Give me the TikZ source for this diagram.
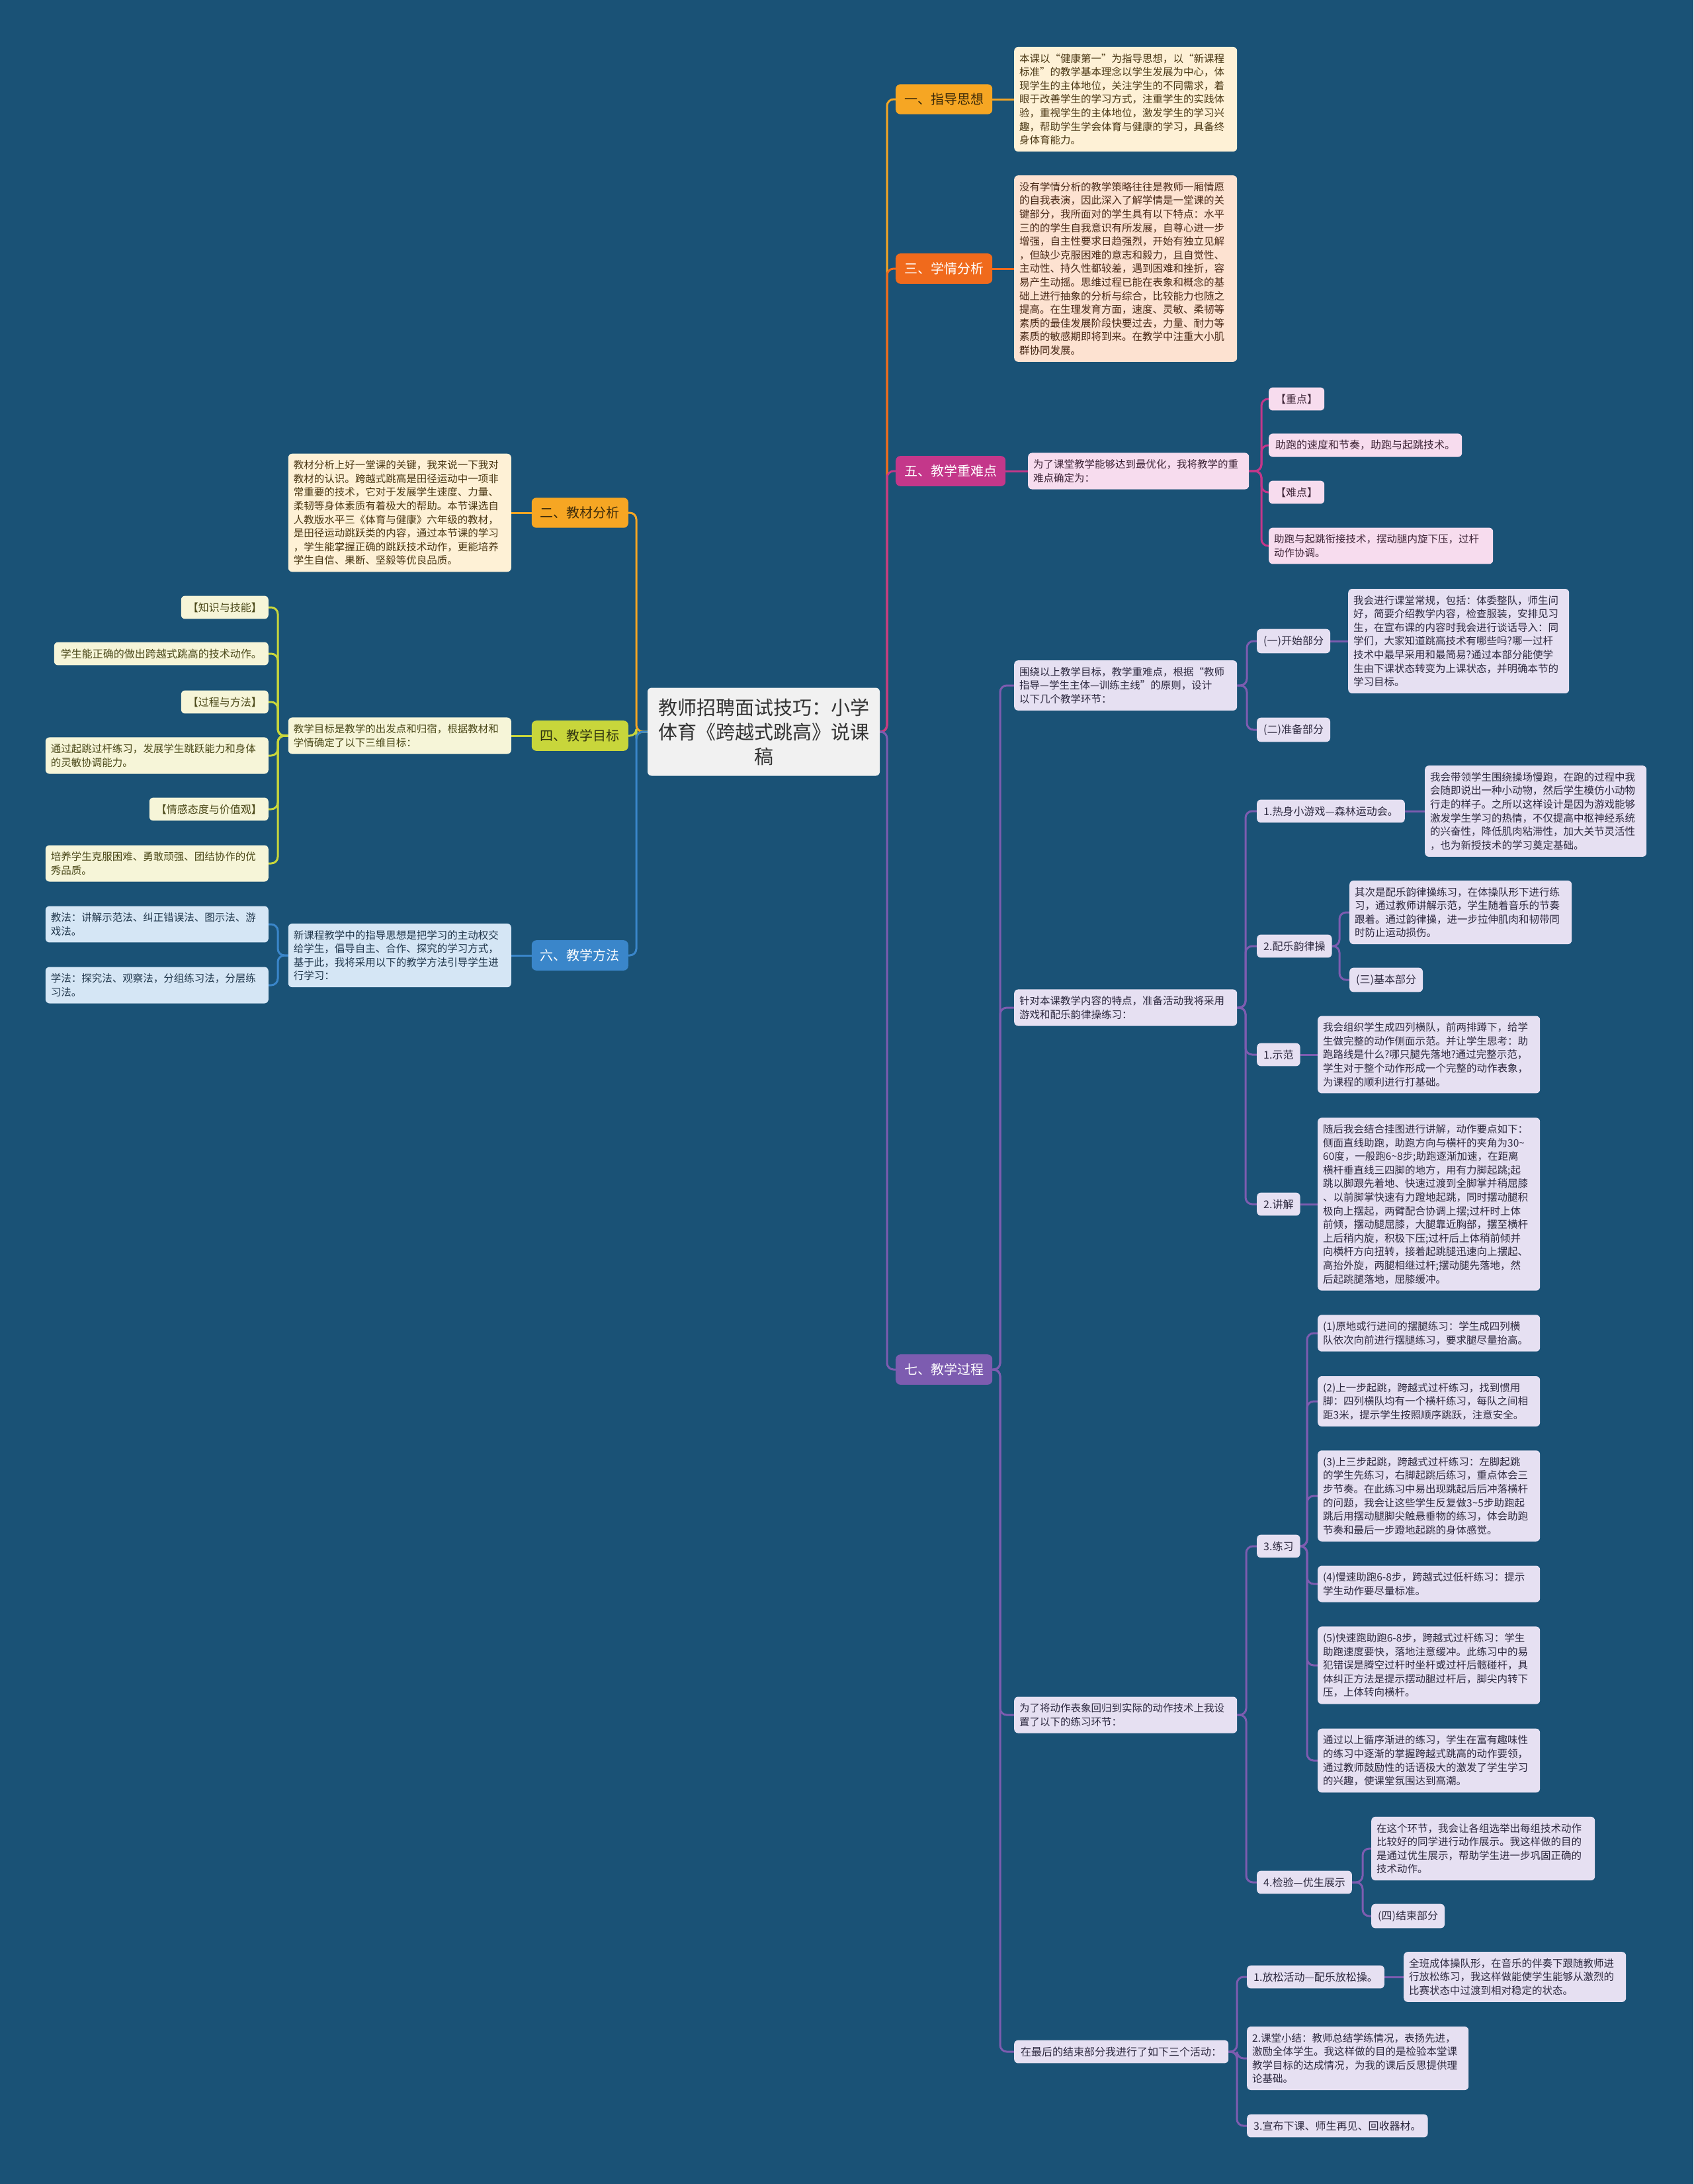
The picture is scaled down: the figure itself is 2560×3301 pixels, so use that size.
\documentclass[tikz,border=0pt]{standalone}
\usepackage{fontspec}
\setmainfont{Noto Sans CJK SC}
\usetikzlibrary{calc}
\definecolor{bg}{HTML}{1A5276}
\definecolor{cA}{HTML}{F6A623}
\definecolor{cB}{HTML}{F06A1C}
\definecolor{cC}{HTML}{C4378A}
\definecolor{cD}{HTML}{7D5CB0}
\definecolor{cE}{HTML}{C8D63B}
\definecolor{cF}{HTML}{3A86CA}
\definecolor{dA}{HTML}{3B2A0A}
\definecolor{dE}{HTML}{2E3310}
\definecolor{fA}{HTML}{FEF1D6}
\definecolor{fB}{HTML}{FDE2D1}
\definecolor{fC}{HTML}{F7DCEE}
\definecolor{fD}{HTML}{E6E0F2}
\definecolor{fE}{HTML}{F6F5D8}
\definecolor{fF}{HTML}{D5E6F5}
\definecolor{tA}{HTML}{4A3714}
\definecolor{tB}{HTML}{4A2A18}
\definecolor{tC}{HTML}{3D2436}
\definecolor{tD}{HTML}{2E2A40}
\definecolor{tE}{HTML}{4A4818}
\definecolor{tF}{HTML}{22384D}
\definecolor{rootfill}{HTML}{F1F1F1}
\pgfdeclarelayer{bgl}
\pgfdeclarelayer{lnk}
\pgfsetlayers{bgl,lnk,main}
\newcommand{\tl}{\textasciitilde{}}
\begin{document}
\begin{tikzpicture}[x=1pt,y=-1pt,
  rootnode/.style={fill=rootfill, text=black!80, rounded corners=6pt, inner xsep=16pt, inner ysep=16pt, align=center, font=\fontsize{29}{37}\selectfont},
  lone/.style={rounded corners=7pt, inner xsep=13pt, inner ysep=13.5pt, font=\fontsize{20}{24}\selectfont},
  tb/.style={rounded corners=6pt, inner xsep=10pt, inner ysep=10pt, align=left, font=\fontsize{16}{20.6}\selectfont},
  wb/.style={rounded corners=6pt, inner xsep=8pt, inner ysep=10pt, align=left, font=\fontsize{15.5}{20.6}\selectfont, text width=321pt},
  bA/.style={fill=fA, text=tA},
  bB/.style={fill=fB, text=tB},
  bC/.style={fill=fC, text=tC},
  bD/.style={fill=fD, text=tD},
  bE/.style={fill=fE, text=tE},
  bF/.style={fill=fF, text=tF},
  lk/.style={line width=3pt, rounded corners=10pt}
]
\begin{pgfonlayer}{bgl}
\fill[bg] (0,0) rectangle (2560,3301);
\end{pgfonlayer}
\useasboundingbox (0,0) rectangle (2560,3301);

% trunk coordinates
\coordinate (TR) at (1341,0);
\coordinate (TL) at (962,0);
\coordinate (T5) at (1907,0);
\coordinate (T4) at (420,0);
\coordinate (T7) at (1512,0);
\coordinate (T7a) at (1885,0);
\coordinate (T7b) at (1883,0);
\coordinate (T7c) at (1884,0);
\coordinate (T7d) at (1870,0);
\coordinate (Tb2) at (2025,0);
\coordinate (Tc1) at (1976,0);
\coordinate (Tc2) at (2060,0);

% root
\node[rootnode] (root) at (1154.5,1106) {教师招聘面试技巧：小学\\体育《跨越式跳高》说课\\稿};

% level 1
\node[lone, fill=cA, text=dA, anchor=west] (n1) at (1354,150) {一、指导思想};
\node[lone, fill=cB, text=white, anchor=west] (n3) at (1354,406) {三、学情分析};
\node[lone, fill=cC, text=white, anchor=west] (n5) at (1354,712) {五、教学重难点};
\node[lone, fill=cD, text=white, anchor=west] (n7) at (1354,2070) {七、教学过程};
\node[lone, fill=cA, text=dA, anchor=east] (n2) at (950,775) {二、教材分析};
\node[lone, fill=cE, text=dE, anchor=east] (n4) at (950,1112) {四、教学目标};
\node[lone, fill=cF, text=white, anchor=east] (n6) at (950,1444) {六、教学方法};

% branch one
\node[wb, bA, anchor=west] (t1) at (1533,150) {本课以“健康第一”为指导思想，以“新课程\\标准”的教学基本理念以学生发展为中心，体\\现学生的主体地位，关注学生的不同需求，着\\眼于改善学生的学习方式，注重学生的实践体\\验，重视学生的主体地位，激发学生的学习兴\\趣，帮助学生学会体育与健康的学习，具备终\\身体育能力。};

% branch three
\node[wb, bB, anchor=west] (t3) at (1533,406) {没有学情分析的教学策略往往是教师一厢情愿\\的自我表演，因此深入了解学情是一堂课的关\\键部分，我所面对的学生具有以下特点：水平\\三的的学生自我意识有所发展，自尊心进一步\\增强，自主性要求日趋强烈，开始有独立见解\\，但缺少克服困难的意志和毅力，且自觉性、\\主动性、持久性都较差，遇到困难和挫折，容\\易产生动摇。思维过程已能在表象和概念的基\\础上进行抽象的分析与综合，比较能力也随之\\提高。在生理发育方面，速度、灵敏、柔韧等\\素质的最佳发展阶段快要过去，力量、耐力等\\素质的敏感期即将到来。在教学中注重大小肌\\群协同发展。};

% branch five
\node[wb, bC, anchor=west, text width=318pt] (t5) at (1554,712) {为了课堂教学能够达到最优化，我将教学的重\\难点确定为：};
\node[tb, bC, anchor=west] (t5a) at (1918,603) {【重点】};
\node[tb, bC, anchor=west] (t5b) at (1918,673) {助跑的速度和节奏，助跑与起跳技术。};
\node[tb, bC, anchor=west] (t5c) at (1918,744) {【难点】};
\node[wb, bC, anchor=west, text width=323pt] (t5d) at (1918,825) {助跑与起跳衔接技术，摆动腿内旋下压，过杆\\动作协调。};

% branch two
\node[wb, bA, anchor=east] (t2) at (773,775) {教材分析上好一堂课的关键，我来说一下我对\\教材的认识。跨越式跳高是田径运动中一项非\\常重要的技术，它对于发展学生速度、力量、\\柔韧等身体素质有着极大的帮助。本节课选自\\人教版水平三《体育与健康》六年级的教材，\\是田径运动跳跃类的内容，通过本节课的学习\\，学生能掌握正确的跳跃技术动作，更能培养\\学生自信、果断、坚毅等优良品质。};

% branch four
\node[wb, bE, anchor=east] (t4) at (773,1112) {教学目标是教学的出发点和归宿，根据教材和\\学情确定了以下三维目标：};
\node[tb, bE, anchor=east] (t4a) at (406,918) {【知识与技能】};
\node[tb, bE, anchor=east] (t4b) at (406,988) {学生能正确的做出跨越式跳高的技术动作。};
\node[tb, bE, anchor=east] (t4c) at (406,1061) {【过程与方法】};
\node[wb, bE, anchor=east] (t4d) at (406,1142) {通过起跳过杆练习，发展学生跳跃能力和身体\\的灵敏协调能力。};
\node[tb, bE, anchor=east] (t4e) at (406,1223) {【情感态度与价值观】};
\node[wb, bE, anchor=east] (t4f) at (406,1305) {培养学生克服困难、勇敢顽强、团结协作的优\\秀品质。};

% branch six
\node[wb, bF, anchor=east] (t6) at (773,1444) {新课程教学中的指导思想是把学习的主动权交\\给学生，倡导自主、合作、探究的学习方式，\\基于此，我将采用以下的教学方法引导学生进\\行学习：};
\node[wb, bF, anchor=east] (t6a) at (406,1397) {教法：讲解示范法、纠正错误法、图示法、游\\戏法。};
\node[wb, bF, anchor=east] (t6b) at (406,1489) {学法：探究法、观察法，分组练习法，分层练\\习法。};

% branch seven
\node[wb, bD, anchor=west] (t7a) at (1533,1036) {围绕以上教学目标，教学重难点，根据“教师\\指导—学生主体—训练主线”的原则，设计\\以下几个教学环节：};
\node[tb, bD, anchor=west] (a1) at (1900,969) {(一)开始部分};
\node[wb, bD, anchor=west, text width=318pt] (a1c) at (2038,969) {我会进行课堂常规，包括：体委整队，师生问\\好，简要介绍教学内容，检查服装，安排见习\\生，在宣布课的内容时我会进行谈话导入：同\\学们，大家知道跳高技术有哪些吗?哪一过杆\\技术中最早采用和最简易?通过本部分能使学\\生由下课状态转变为上课状态，并明确本节的\\学习目标。};
\node[tb, bD, anchor=west] (a2) at (1900,1103) {(二)准备部分};

\node[wb, bD, anchor=west] (t7b) at (1533,1523) {针对本课教学内容的特点，准备活动我将采用\\游戏和配乐韵律操练习：};
\node[tb, bD, anchor=west] (b1) at (1900,1226) {1.热身小游戏—森林运动会。};
\node[wb, bD, anchor=west, text width=319pt] (b1c) at (2154,1226) {我会带领学生围绕操场慢跑，在跑的过程中我\\会随即说出一种小动物，然后学生模仿小动物\\行走的样子。之所以这样设计是因为游戏能够\\激发学生学习的热情，不仅提高中枢神经系统\\的兴奋性，降低肌肉粘滞性，加大关节灵活性\\，也为新授技术的学习奠定基础。};
\node[tb, bD, anchor=west] (b2) at (1900,1430) {2.配乐韵律操};
\node[wb, bD, anchor=west, text width=320pt] (b2a) at (2040,1379) {其次是配乐韵律操练习，在体操队形下进行练\\习，通过教师讲解示范，学生随着音乐的节奏\\跟着。通过韵律操，进一步拉伸肌肉和韧带同\\时防止运动损伤。};
\node[tb, bD, anchor=west] (b2b) at (2040,1481) {(三)基本部分};
\node[tb, bD, anchor=west] (b3) at (1900,1594) {1.示范};
\node[wb, bD, anchor=west, text width=320pt] (b3c) at (1992,1594) {我会组织学生成四列横队，前两排蹲下，给学\\生做完整的动作侧面示范。并让学生思考：助\\跑路线是什么?哪只腿先落地?通过完整示范，\\学生对于整个动作形成一个完整的动作表象，\\为课程的顺利进行打基础。};
\node[tb, bD, anchor=west] (b4) at (1900,1820) {2.讲解};
\node[wb, bD, anchor=west, text width=320pt] (b4c) at (1992,1820) {随后我会结合挂图进行讲解，动作要点如下：\\侧面直线助跑，助跑方向与横杆的夹角为30\tl\\60度，一般跑6\tl 8步;助跑逐渐加速，在距离\\横杆垂直线三四脚的地方，用有力脚起跳;起\\跳以脚跟先着地、快速过渡到全脚掌并稍屈膝\\、以前脚掌快速有力蹬地起跳，同时摆动腿积\\极向上摆起，两臂配合协调上摆;过杆时上体\\前倾，摆动腿屈膝，大腿靠近胸部，摆至横杆\\上后稍内旋，积极下压;过杆后上体稍前倾并\\向横杆方向扭转，接着起跳腿迅速向上摆起、\\高抬外旋，两腿相继过杆;摆动腿先落地，然\\后起跳腿落地，屈膝缓冲。};

\node[wb, bD, anchor=west] (t7c) at (1533,2592) {为了将动作表象回归到实际的动作技术上我设\\置了以下的练习环节：};
\node[tb, bD, anchor=west] (c1) at (1900,2337) {3.练习};
\node[wb, bD, anchor=west, text width=320pt] (c1a) at (1992,2015) {(1)原地或行进间的摆腿练习：学生成四列横\\队依次向前进行摆腿练习，要求腿尽量抬高。};
\node[wb, bD, anchor=west, text width=320pt] (c1b) at (1992,2118) {(2)上一步起跳，跨越式过杆练习，找到惯用\\脚：四列横队均有一个横杆练习，每队之间相\\距3米，提示学生按照顺序跳跃，注意安全。};
\node[wb, bD, anchor=west, text width=320pt] (c1c) at (1992,2261) {(3)上三步起跳，跨越式过杆练习：左脚起跳\\的学生先练习，右脚起跳后练习，重点体会三\\步节奏。在此练习中易出现跳起后后冲落横杆\\的问题，我会让这些学生反复做3\tl 5步助跑起\\跳后用摆动腿脚尖触悬垂物的练习，体会助跑\\节奏和最后一步蹬地起跳的身体感觉。};
\node[wb, bD, anchor=west, text width=320pt] (c1d) at (1992,2394) {(4)慢速助跑6-8步，跨越式过低杆练习：提示\\学生动作要尽量标准。};
\node[wb, bD, anchor=west, text width=320pt] (c1e) at (1992,2517) {(5)快速跑助跑6-8步，跨越式过杆练习：学生\\助跑速度要快，落地注意缓冲。此练习中的易\\犯错误是腾空过杆时坐杆或过杆后髋碰杆，具\\体纠正方法是提示摆动腿过杆后，脚尖内转下\\压，上体转向横杆。};
\node[wb, bD, anchor=west, text width=320pt] (c1f) at (1992,2661) {通过以上循序渐进的练习，学生在富有趣味性\\的练习中逐渐的掌握跨越式跳高的动作要领，\\通过教师鼓励性的话语极大的激发了学生学习\\的兴趣，使课堂氛围达到高潮。};
\node[tb, bD, anchor=west] (c2) at (1900,2845) {4.检验—优生展示};
\node[wb, bD, anchor=west, text width=322pt] (c2a) at (2073,2794) {在这个环节，我会让各组选举出每组技术动作\\比较好的同学进行动作展示。我这样做的目的\\是通过优生展示，帮助学生进一步巩固正确的\\技术动作。};
\node[tb, bD, anchor=west] (c2b) at (2073,2896) {(四)结束部分};

\node[tb, bD, anchor=west] (t7d) at (1533,3101) {在最后的结束部分我进行了如下三个活动：};
\node[tb, bD, anchor=west] (d1) at (1885,2988) {1.放松活动—配乐放松操。};
\node[wb, bD, anchor=west, text width=320pt] (d1c) at (2122,2988) {全班成体操队形，在音乐的伴奏下跟随教师进\\行放松练习，我这样做能使学生能够从激烈的\\比赛状态中过渡到相对稳定的状态。};
\node[wb, bD, anchor=west, text width=319pt] (d2) at (1885,3111) {2.课堂小结：教师总结学练情况，表扬先进，\\激励全体学生。我这样做的目的是检验本堂课\\教学目标的达成情况，为我的课后反思提供理\\论基础。};
\node[tb, bD, anchor=west] (d3) at (1885,3213) {3.宣布下课、师生再见、回收器材。};

% connectors
\begin{pgfonlayer}{lnk}
% root to level 1
\draw[lk, cA] (root.east) -- (root.east -| TR) |- (n1.west);
\draw[lk, cB] (root.east) -- (root.east -| TR) |- (n3.west);
\draw[lk, cC] (root.east) -- (root.east -| TR) |- (n5.west);
\draw[lk, cD] (root.east) -- (root.east -| TR) |- (n7.west);
\draw[lk, cA] (root.west) -- (root.west -| TL) |- (n2.east);
\draw[lk, cE] (root.west) -- (root.west -| TL) |- (n4.east);
\draw[lk, cF] (root.west) -- (root.west -| TL) |- (n6.east);
% level 1 to level 2
\draw[lk, cA] (n1.east) -- (t1.west);
\draw[lk, cB] (n3.east) -- (t3.west);
\draw[lk, cC] (n5.east) -- (t5.west);
\draw[lk, cA] (n2.west) -- (t2.east);
\draw[lk, cE] (n4.west) -- (t4.east);
\draw[lk, cF] (n6.west) -- (t6.east);
% five
\foreach \c in {t5a,t5b,t5c,t5d}
  \draw[lk, cC] (t5.east) -- (t5.east -| T5) |- (\c.west);
% four
\foreach \c in {t4a,t4b,t4c,t4d,t4e,t4f}
  \draw[lk, cE] (t4.west) -- (t4.west -| T4) |- (\c.east);
% six
\foreach \c in {t6a,t6b}
  \draw[lk, cF] (t6.west) -- (t6.west -| T4) |- (\c.east);
% seven
\foreach \c in {t7a,t7b,t7c,t7d}
  \draw[lk, cD] (n7.east) -- (n7.east -| T7) |- (\c.west);
\foreach \c in {a1,a2}
  \draw[lk, cD] (t7a.east) -- (t7a.east -| T7a) |- (\c.west);
\draw[lk, cD] (a1.east) -- (a1c.west);
\foreach \c in {b1,b2,b3,b4}
  \draw[lk, cD] (t7b.east) -- (t7b.east -| T7b) |- (\c.west);
\draw[lk, cD] (b1.east) -- (b1c.west);
\foreach \c in {b2a,b2b}
  \draw[lk, cD] (b2.east) -- (b2.east -| Tb2) |- (\c.west);
\draw[lk, cD] (b3.east) -- (b3c.west);
\draw[lk, cD] (b4.east) -- (b4c.west);
\foreach \c in {c1,c2}
  \draw[lk, cD] (t7c.east) -- (t7c.east -| T7c) |- (\c.west);
\foreach \c in {c1a,c1b,c1c,c1d,c1e,c1f}
  \draw[lk, cD] (c1.east) -- (c1.east -| Tc1) |- (\c.west);
\foreach \c in {c2a,c2b}
  \draw[lk, cD] (c2.east) -- (c2.east -| Tc2) |- (\c.west);
\foreach \c in {d1,d2,d3}
  \draw[lk, cD] (t7d.east) -- (t7d.east -| T7d) |- (\c.west);
\draw[lk, cD] (d1.east) -- (d1c.west);
\end{pgfonlayer}
\end{tikzpicture}
\end{document}
